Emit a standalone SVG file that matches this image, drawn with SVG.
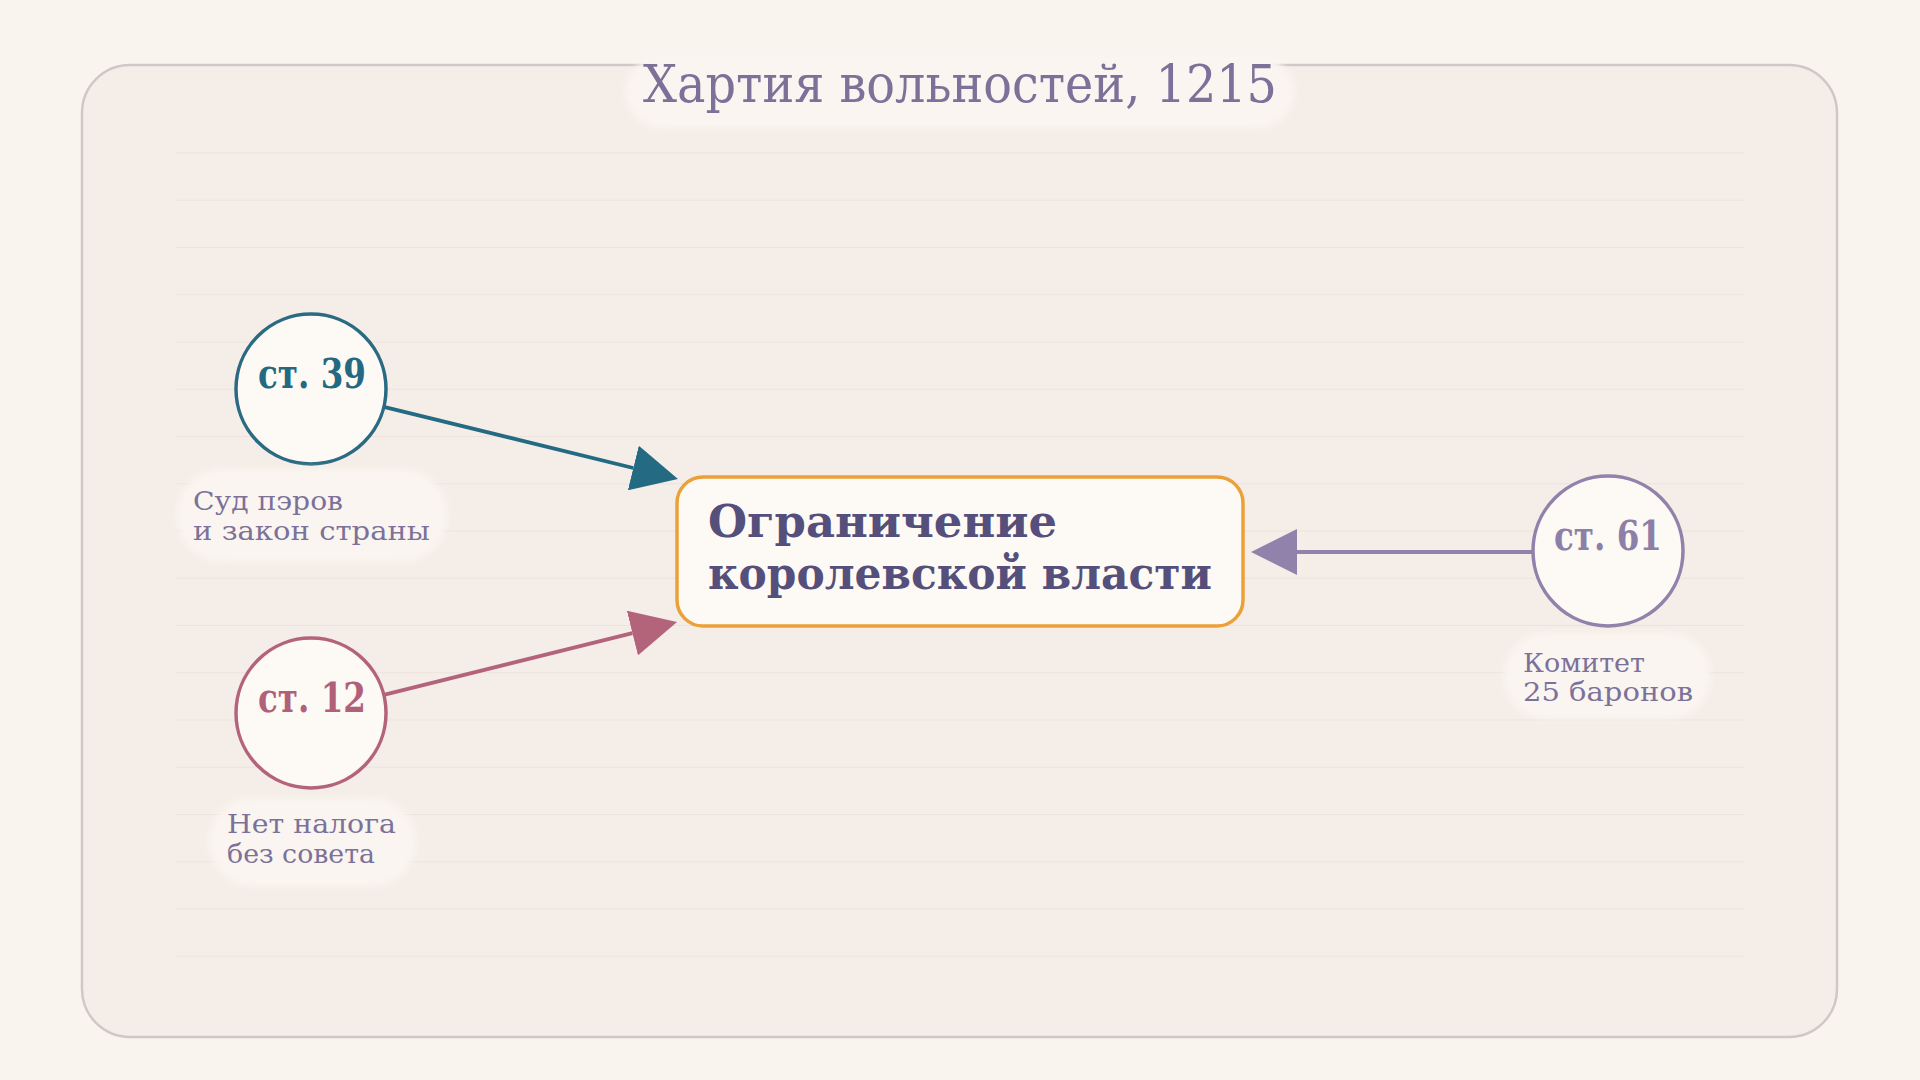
<svg xmlns="http://www.w3.org/2000/svg" width="1920" height="1080" viewBox="0 0 1920 1080">
  <style>
    .grid line { stroke: #ebe3dc; stroke-width: 1.2; }
    .pill { fill: #faf5f0; filter: url(#soft); }
    .lbl { font-family: "DejaVu Serif", "Liberation Serif", serif; font-size: 26px; fill: #7b7199; }
    .ctext { font-family: "DejaVu Serif", "Liberation Serif", serif; font-size: 41px; font-weight: bold; text-anchor: middle; }
    .circ { fill: #fdf9f4; stroke-width: 3.5; }
    .conn { fill: none; stroke-width: 3.8; }
  </style>
  <defs>
    <filter id="soft" x="-10%" y="-20%" width="120%" height="140%">
      <feGaussianBlur stdDeviation="3"/>
    </filter>
    <marker id="hTeal" markerUnits="userSpaceOnUse" markerWidth="46" markerHeight="46" refX="0" refY="23" orient="auto">
      <path d="M0,0 L46,23 L0,46 Z" fill="#256a83"/>
    </marker>
    <marker id="hRose" markerUnits="userSpaceOnUse" markerWidth="46" markerHeight="46" refX="0" refY="23" orient="auto">
      <path d="M0,0 L46,23 L0,46 Z" fill="#b3647b"/>
    </marker>
    <marker id="hPurple" markerUnits="userSpaceOnUse" markerWidth="46" markerHeight="46" refX="0" refY="23" orient="auto">
      <path d="M0,0 L46,23 L0,46 Z" fill="#9082aa"/>
    </marker>
  </defs>

  <rect x="0" y="0" width="1920" height="1080" fill="#faf4ee"/>

  <g id="frame">
    <rect x="82" y="65" width="1755" height="972" rx="48" ry="48" fill="#f5eee8" stroke="#cfc8c8" stroke-width="2.5"/>
  </g>

  <g class="grid">
    <line x1="176" y1="153" x2="1744" y2="153"/>
    <line x1="176" y1="200.25" x2="1744" y2="200.25"/>
    <line x1="176" y1="247.5" x2="1744" y2="247.5"/>
    <line x1="176" y1="294.75" x2="1744" y2="294.75"/>
    <line x1="176" y1="342" x2="1744" y2="342"/>
    <line x1="176" y1="389.25" x2="1744" y2="389.25"/>
    <line x1="176" y1="436.5" x2="1744" y2="436.5"/>
    <line x1="176" y1="483.75" x2="1744" y2="483.75"/>
    <line x1="176" y1="531" x2="1744" y2="531"/>
    <line x1="176" y1="578.25" x2="1744" y2="578.25"/>
    <line x1="176" y1="625.5" x2="1744" y2="625.5"/>
    <line x1="176" y1="672.75" x2="1744" y2="672.75"/>
    <line x1="176" y1="720" x2="1744" y2="720"/>
    <line x1="176" y1="767.25" x2="1744" y2="767.25"/>
    <line x1="176" y1="814.5" x2="1744" y2="814.5"/>
    <line x1="176" y1="861.75" x2="1744" y2="861.75"/>
    <line x1="176" y1="909" x2="1744" y2="909"/>
    <line x1="176" y1="956.25" x2="1744" y2="956.25"/>
  </g>

  <g id="title">
    <rect class="pill" x="626" y="56" width="668" height="72" rx="36" ry="36"/>
    <text x="960" y="102" text-anchor="middle" font-family="DejaVu Serif, Liberation Serif, serif" font-size="52" fill="#7b7199" textLength="634" lengthAdjust="spacingAndGlyphs">Хартия вольностей, 1215</text>
  </g>

  <g id="connectors">
    <path class="conn" d="M383.8,406.9 L633.3,468" stroke="#256a83" marker-end="url(#hTeal)"/>
    <path class="conn" d="M383.8,694.9 L632.4,633.1" stroke="#b3647b" marker-end="url(#hRose)"/>
    <path class="conn" d="M1533,552 L1297,552" stroke="#9082aa" marker-end="url(#hPurple)"/>
  </g>

  <g id="node-main">
    <rect x="677" y="477" width="566" height="149" rx="26" ry="26" fill="#fdf9f4" stroke="#eba038" stroke-width="3.5"/>
    <text font-family="DejaVu Serif, Liberation Serif, serif" font-size="44" font-weight="bold" fill="#554f7b">
      <tspan x="708" y="537" textLength="349" lengthAdjust="spacingAndGlyphs">Ограничение</tspan>
      <tspan x="708" y="589" textLength="504" lengthAdjust="spacingAndGlyphs">королевской власти</tspan>
    </text>
  </g>

  <g id="node-art39">
    <circle class="circ" cx="311" cy="389" r="75" stroke="#2a6a83"/>
    <text class="ctext" x="312" y="388" fill="#256882" textLength="108" lengthAdjust="spacingAndGlyphs">ст. 39</text>
    <rect class="pill" x="177" y="469" width="270" height="93" rx="46" ry="46"/>
    <text class="lbl">
      <tspan x="193" y="510" textLength="150" lengthAdjust="spacingAndGlyphs">Суд пэров</tspan>
      <tspan x="193" y="540" textLength="237" lengthAdjust="spacingAndGlyphs">и закон страны</tspan>
    </text>
  </g>

  <g id="node-art12">
    <circle class="circ" cx="311" cy="713" r="75" stroke="#b3647b"/>
    <text class="ctext" x="312" y="712" fill="#b1607a" textLength="108" lengthAdjust="spacingAndGlyphs">ст. 12</text>
    <rect class="pill" x="209" y="798" width="207" height="88" rx="44" ry="44"/>
    <text class="lbl">
      <tspan x="227" y="833" textLength="169" lengthAdjust="spacingAndGlyphs">Нет налога</tspan>
      <tspan x="227" y="863" textLength="148" lengthAdjust="spacingAndGlyphs">без совета</tspan>
    </text>
  </g>

  <g id="node-art61">
    <circle class="circ" cx="1608" cy="551" r="75" stroke="#9082aa"/>
    <text class="ctext" x="1608" y="550" fill="#8c7fa8" textLength="108" lengthAdjust="spacingAndGlyphs">ст. 61</text>
    <rect class="pill" x="1504" y="633" width="207" height="86" rx="43" ry="43"/>
    <text class="lbl">
      <tspan x="1523" y="672" textLength="122" lengthAdjust="spacingAndGlyphs">Комитет</tspan>
      <tspan x="1523" y="701" textLength="170" lengthAdjust="spacingAndGlyphs">25 баронов</tspan>
    </text>
  </g>
</svg>
